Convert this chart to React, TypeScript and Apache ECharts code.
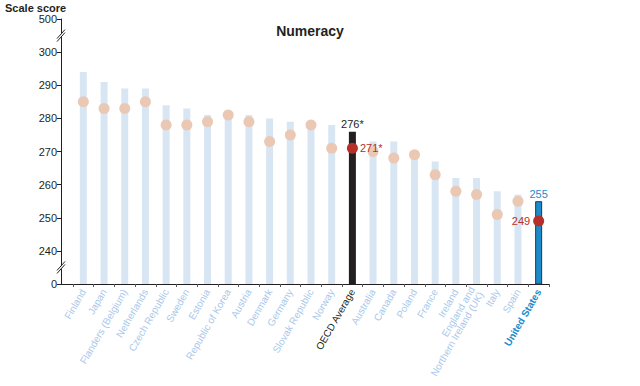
import React, { useEffect, useRef } from "react";
import * as echarts from "echarts";

const categories = [
  "Finland", "Japan", "Flanders (Belgium)", "Netherlands", "Czech Republic", "Sweden",
  "Estonia", "Republic of Korea", "Austria", "Denmark", "Germany", "Slovak Republic",
  "Norway", "OECD Average", "Australia", "Canada", "Poland", "France", "Ireland",
  "England and\nNorthern Ireland (UK)", "Italy", "Spain", "United States",
];
const barValues = [294, 291, 289, 289, 284, 283, 281, 281, 281, 280, 279, 278, 278, 276, 273, 273, 269, 267, 262, 262, 258, 257, 255];
const dotValues = [285, 283, 283, 285, 278, 278, 279, 281, 279, 273, 275, 278, 271, 271, 270, 268, 269, 263, 258, 257, 251, 255, 249];
const yTicks = [230, 240, 250, 260, 270, 280, 290, 300, 310];
const yTickLabels: Record<number, string> = { 230: "0", 310: "500" };

const OECD = "OECD Average";
const US = "United States";
const FONT = "'Liberation Sans', Arial, Helvetica, sans-serif";

export default function App() {
  const ref = useRef<HTMLDivElement>(null);
  useEffect(() => {
    if (!ref.current) return;
    const chart = echarts.init(ref.current, null, { renderer: "svg" });
    const barData = barValues.map((v, i) => {
      const c = categories[i];
      if (c === OECD)
        return { value: v, itemStyle: { color: "#231f20" }, label: { show: true, position: "top", formatter: "276*", color: "#231f20", fontSize: 11, distance: 2 } };
      if (c === US)
        return { value: v, itemStyle: { color: "#1a8ccc", borderColor: "#333", borderWidth: 1 }, label: { show: true, position: "top", formatter: "255", color: "#1a8ccc", fontSize: 11, distance: 2 } };
      return { value: v };
    });
    const dotData = dotValues.map((v, i) => {
      const c = categories[i];
      if (c === OECD)
        return { value: v, itemStyle: { color: "#b5302a" }, label: { show: true, position: "right", formatter: "271*", color: "#b5302a", fontSize: 11, distance: 2 } };
      if (c === US)
        return { value: v, itemStyle: { color: "#b5302a" }, label: { show: true, position: "left", formatter: "249", color: "#b5302a", fontSize: 11, distance: 3 } };
      return { value: v };
    });
    chart.setOption({
      animation: false,
      textStyle: { fontFamily: FONT },
      title: {
        text: "Numeracy",
        left: 305,
        top: 19,
        textAlign: "center",
        textStyle: { fontFamily: FONT, fontSize: 14, fontWeight: "bold", color: "#231f20" },
      },
      grid: { left: 73, right: 91, top: 19, bottom: 102, containLabel: false },
      xAxis: {
        type: "category",
        data: categories,
        axisLine: { show: true, lineStyle: { color: "#231f20", width: 1 } },
        axisTick: { show: true, alignWithLabel: false, length: 3, lineStyle: { color: "#555" } },
        axisLabel: {
          interval: 0,
          rotate: 60,
          fontSize: 10,
          fontFamily: FONT,
          margin: 6,
          color: (v: string) => (v === OECD ? "#231f20" : v === US ? "#1a8ccc" : "#a9c8ea"),
          formatter: (v: string) => (v === US ? "{us|" + v + "}" : v),
          rich: { us: { fontWeight: "bold", color: "#1a8ccc", fontSize: 10, fontFamily: FONT } },
        },
      },
      yAxis: {
        type: "value",
        min: 230,
        max: 310,
        interval: 10,
        offset: 12,
        name: "Scale score",
        nameLocation: "end",
        nameGap: 4,
        nameTextStyle: { fontFamily: FONT, fontSize: 11, fontWeight: "bold", color: "#231f20", align: "left", padding: [0, 0, 0, -56] },
        splitLine: { show: false },
        axisLine: { show: true, lineStyle: { color: "#231f20", width: 1 } },
        axisTick: { show: true, length: 4, lineStyle: { color: "#231f20" } },
        axisLabel: {
          fontSize: 11,
          fontFamily: FONT,
          color: "#231f20",
          margin: 4,
          formatter: (v: number) => (yTickLabels[v] !== undefined ? yTickLabels[v] : yTicks.includes(v) ? String(v) : ""),
        },
      },
      series: [
        {
          type: "bar",
          data: barData,
          barWidth: 7,
          clip: true,
          itemStyle: { color: "#d8e6f4" },
          z: 2,
        },
        {
          type: "scatter",
          data: dotData,
          symbolSize: 11,
          itemStyle: { color: "#ebc8b4", opacity: 1 },
          z: 3,
        },
      ],
    });

    const drawBreaks = () => {
      const axisX = 73 - 12;
      const y0 = Math.round(chart.convertToPixel({ yAxisIndex: 0 }, 230) as number) + 0.5;
      const elems: any[] = [
        { type: "line", shape: { x1: axisX, y1: y0, x2: 73, y2: y0 }, style: { stroke: "#231f20", lineWidth: 1 }, z: 10 },
      ];
      [235, 305].forEach((v) => {
        const y = chart.convertToPixel({ yAxisIndex: 0 }, v) as number;
        elems.push({
          type: "polygon",
          shape: { points: [[axisX - 3, y + 3], [axisX + 3, y - 5], [axisX + 3, y - 2], [axisX - 3, y + 6]] },
          style: { fill: "#fff" },
          z: 10,
        });
        elems.push({ type: "line", shape: { x1: axisX - 4, y1: y + 3, x2: axisX + 4, y2: y - 6 }, style: { stroke: "#231f20", lineWidth: 1 }, z: 11 });
        elems.push({ type: "line", shape: { x1: axisX - 4, y1: y + 6, x2: axisX + 4, y2: y - 3 }, style: { stroke: "#231f20", lineWidth: 1 }, z: 11 });
      });
      chart.setOption({ graphic: { elements: elems } });
    };
    drawBreaks();
    return () => chart.dispose();
  }, []);
  return <div ref={ref} style={{ position: "fixed", left: 0, top: 0, width: 640, height: 386, background: "#fff" }} />;
}
